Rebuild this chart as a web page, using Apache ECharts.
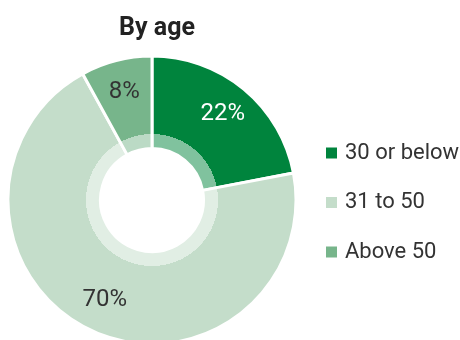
<!DOCTYPE html>
<html><head><meta charset="utf-8">
<script src="https://cdn.jsdelivr.net/npm/echarts@6/dist/echarts.min.js"></script>
<style>html,body{margin:0;padding:0;background:#fff}#c{width:460px;height:340px}</style>
</head><body><div id="c"></div>
<script>
const categories = ['30 or below', '31 to 50', 'Above 50'];
const values = [22, 70, 8];
const colors = ['#00843d', '#c4ddca', '#77b58b'];
const innerColors = ['#80c29e', '#e1eee4', '#bbdac5'];
const labelColors = ['#ffffff', '#333333', '#333333'];
const titleText = 'By age';

const chart = echarts.init(document.getElementById('c'), null, {renderer: 'canvas'});
const cx = 152, cy = 200, R = 144, R0 = 51.5, RING = 66;
const FONT = 'Roboto, sans-serif';
const grad = (i) => ({
  type: 'radial', x: cx, y: cy, r: R, global: true,
  colorStops: [
    {offset: 0, color: innerColors[i]},
    {offset: RING / R, color: innerColors[i]},
    {offset: RING / R + 0.0001, color: colors[i]},
    {offset: 1, color: colors[i]}
  ]
});
chart.setOption({
  animation: false,
  title: {
    text: titleText, left: 152, top: 11, textAlign: 'center',
    textStyle: {fontFamily: FONT, fontWeight: 'bold', fontSize: 25, color: '#222'}
  },
  legend: {
    orient: 'vertical', left: 321, top: 137,
    itemWidth: 11, itemHeight: 11, itemGap: 27.5, icon: 'rect',
    data: categories.map((n, i) => ({name: n, itemStyle: {color: colors[i], borderWidth: 0, borderColor: 'transparent'}})),
    textStyle: {fontFamily: FONT, fontSize: 22, color: '#333', padding: [0, 0, 0, 3]}
  },
  series: [
    {
      type: 'pie', center: [cx, cy], radius: [R0, R], startAngle: 90, clockwise: true,
      silent: true, label: {show: false}, labelLine: {show: false},
      itemStyle: {borderColor: '#fff', borderWidth: 3},
      data: categories.map((n, i) => ({name: n, value: values[i], itemStyle: {color: grad(i)}}))
    },
    {
      type: 'pie', center: [cx, cy], radius: [74, 142], startAngle: 90, clockwise: true,
      silent: true, labelLine: {show: false}, legendHoverLink: false,
      itemStyle: {color: 'rgba(0,0,0,0)', borderWidth: 0},
      label: {show: true, position: 'inside', formatter: '{c}%', fontFamily: FONT, fontSize: 24},
      data: categories.map((n, i) => ({name: n, value: values[i], label: {color: labelColors[i]}}))
    }
  ]
});
</script></body></html>
